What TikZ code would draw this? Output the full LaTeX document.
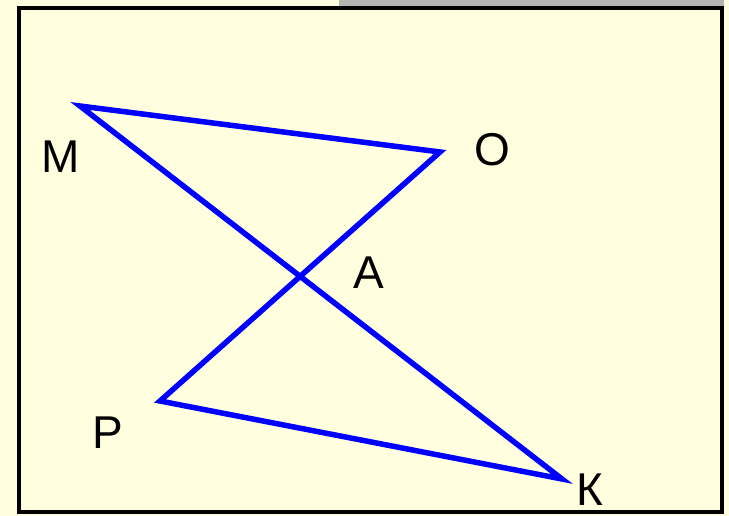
\documentclass[tikz,border=0pt]{standalone}
\usepackage{fontspec}
\setmainfont{Liberation Sans}
\definecolor{bgyellow}{HTML}{FFFFE0}
\definecolor{bargrey}{HTML}{B4B4B4}
\begin{document}
\begin{tikzpicture}[x=1pt,y=-1pt,
  seg/.style={draw={rgb,255:red,0;green,0;blue,255},line width=5.5pt,line join=miter},
  lbl/.style={font=\fontsize{46}{52}\selectfont,inner sep=0pt}]
\fill[bgyellow] (0,0) rectangle (729,516);
\useasboundingbox (0,0) rectangle (729,516);
\fill[bargrey] (339,0) rectangle (724,6);
\draw[black,line width=4pt] (19,8) rectangle (722,512);
\coordinate (M) at (80,106);
\coordinate (O) at (440,152);
\coordinate (P) at (160,401);
\coordinate (K) at (562,479);
\draw[seg] (K) -- (M) -- (O) -- (P) -- cycle;
\node[lbl] (lM) at (61,157) {M};
\node[lbl] (lO) at (492,150) {O};
\node[lbl] (lA) at (369,273) {A};
\node[lbl] (lP) at (108,433) {P};
\node[lbl] (lK) at (590,490) {К};
\end{tikzpicture}
\end{document}
